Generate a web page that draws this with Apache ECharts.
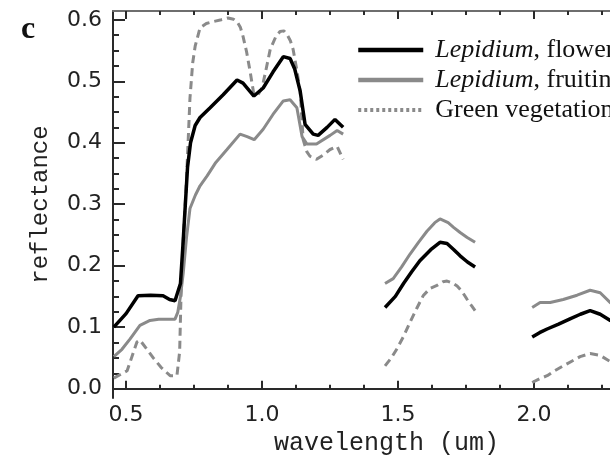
<!DOCTYPE html>
<html>
<head>
<meta charset="utf-8">
<title>Reflectance spectra</title>
<script src="https://cdn.jsdelivr.net/npm/echarts@6/dist/echarts.min.js"></script>
<style>
  html, body { margin: 0; padding: 0; background: #fff; }
  #chart { width: 610px; height: 461px; }
</style>
</head>
<body>
<div id="chart"></div>
<script>
// Spectral reflectance, wavelength in micrometres; null marks the water-absorption gaps.
const flowerWl = [0.455, 0.50, 0.544, 0.59, 0.636, 0.66, 0.68, 0.70, 0.71, 0.718, 0.726, 0.737, 0.754, 0.772, 0.809, 0.857, 0.908, 0.93, 0.97, 1.004, 1.04, 1.078, 1.103, 1.12, 1.14, 1.158, 1.188, 1.206, 1.239, 1.268, 1.298,
  null,
  1.452, 1.49, 1.52, 1.55, 1.58, 1.62, 1.654, 1.68, 1.705, 1.728, 1.755, 1.783,
  null,
  1.993, 2.02, 2.048, 2.09, 2.13, 2.17, 2.206, 2.243, 2.28, 2.32];
const flowerRef = [0.100, 0.122, 0.151, 0.152, 0.151, 0.145, 0.143, 0.171, 0.240, 0.300, 0.360, 0.400, 0.428, 0.441, 0.457, 0.478, 0.502, 0.497, 0.476, 0.489, 0.515, 0.540, 0.537, 0.520, 0.484, 0.430, 0.414, 0.412, 0.425, 0.438, 0.425,
  null,
  0.132, 0.150, 0.171, 0.190, 0.208, 0.226, 0.238, 0.236, 0.226, 0.216, 0.206, 0.198,
  null,
  0.084, 0.091, 0.097, 0.105, 0.113, 0.121, 0.127, 0.121, 0.111, 0.098];

const fruitWl = [0.455, 0.485, 0.515, 0.551, 0.588, 0.62, 0.662, 0.68, 0.69, 0.70, 0.71, 0.722, 0.735, 0.755, 0.772, 0.798, 0.83, 0.871, 0.919, 0.945, 0.971, 1.004, 1.04, 1.078, 1.103, 1.128, 1.147, 1.165, 1.2, 1.25, 1.276, 1.298,
  null,
  1.452, 1.482, 1.513, 1.544, 1.575, 1.606, 1.635, 1.654, 1.684, 1.705, 1.728, 1.754, 1.783,
  null,
  1.993, 2.022, 2.059, 2.107, 2.158, 2.206, 2.243, 2.28, 2.32];
const fruitRef = [0.052, 0.064, 0.081, 0.103, 0.111, 0.113, 0.113, 0.113, 0.124, 0.150, 0.187, 0.245, 0.293, 0.315, 0.330, 0.346, 0.368, 0.389, 0.414, 0.410, 0.405, 0.422, 0.446, 0.468, 0.470, 0.457, 0.410, 0.398, 0.398, 0.412, 0.420, 0.414,
  null,
  0.171, 0.179, 0.198, 0.219, 0.238, 0.256, 0.270, 0.276, 0.270, 0.262, 0.254, 0.246, 0.238,
  null,
  0.132, 0.140, 0.140, 0.145, 0.152, 0.160, 0.156, 0.140, 0.130];

const greenWl = [0.455, 0.504, 0.54, 0.551, 0.575, 0.60, 0.63, 0.662, 0.687, 0.697, 0.702, 0.71, 0.72, 0.728, 0.735, 0.745, 0.754, 0.772, 0.795, 0.82, 0.85, 0.875, 0.895, 0.908, 0.92, 0.93, 0.943, 0.956, 0.97, 0.985, 1.0, 1.015, 1.03, 1.05, 1.066, 1.08, 1.092, 1.104, 1.114, 1.127, 1.14, 1.151, 1.165, 1.176, 1.2, 1.225, 1.25, 1.276, 1.298,
  null,
  1.452, 1.475, 1.496, 1.52, 1.544, 1.568, 1.592, 1.617, 1.643, 1.665, 1.68, 1.70, 1.717, 1.735, 1.754, 1.77, 1.783,
  null,
  1.993, 2.02, 2.048, 2.075, 2.107, 2.14, 2.169, 2.206, 2.243, 2.28, 2.32];
const greenRef = [0.017, 0.029, 0.076, 0.079, 0.065, 0.050, 0.034, 0.021, 0.021, 0.060, 0.150, 0.240, 0.320, 0.400, 0.473, 0.530, 0.557, 0.587, 0.594, 0.597, 0.600, 0.603, 0.601, 0.597, 0.588, 0.573, 0.548, 0.516, 0.478, 0.478, 0.489, 0.520, 0.552, 0.572, 0.581, 0.582, 0.576, 0.566, 0.552, 0.520, 0.484, 0.405, 0.385, 0.378, 0.373, 0.380, 0.389, 0.394, 0.373,
  null,
  0.037, 0.050, 0.065, 0.085, 0.108, 0.130, 0.151, 0.163, 0.168, 0.174, 0.175, 0.172, 0.167, 0.158, 0.145, 0.135, 0.127,
  null,
  0.010, 0.016, 0.021, 0.029, 0.037, 0.045, 0.052, 0.057, 0.054, 0.044, 0.036];

const seriesNames = ['Lepidium, flowering', 'Lepidium, fruiting', 'Green vegetation'];
const xMajorTicks = [0.5, 1.0, 1.5, 2.0];
const xMinorTicks = [0.625, 0.75, 0.875, 1.125, 1.25, 1.375, 1.625, 1.75, 1.875, 2.125, 2.25];
const yMajorTicks = [0.0, 0.1, 0.2, 0.3, 0.4, 0.5, 0.6];
const yMinorTicks = [0.025, 0.05, 0.075, 0.125, 0.15, 0.175, 0.225, 0.25, 0.275, 0.325, 0.35, 0.375, 0.425, 0.45, 0.475, 0.525, 0.55, 0.575];

// Pair wavelengths with reflectance; a null pair breaks the line.
function pairs(wl, ref) {
  return wl.map((w, i) => (w === null || ref[i] === null) ? ['-', '-'] : [w, ref[i]]);
}

// The wavelength window runs on past the right edge of the page.
const X_MIN = 0.452, X_MAX = 2.279;
const Y_MIN = -0.0154, Y_MAX = 0.6143;
const AXIS_DARK = '#2a2a2a';
const AXIS_TOP = '#6e6e6e';
const GREY = '#8a8a8a';

function xAxisBase(extra) {
  return Object.assign({
    type: 'value', min: X_MIN, max: X_MAX, gridIndex: 0,
    splitLine: { show: false }, axisLabel: { show: false }
  }, extra);
}
function yAxisBase(extra) {
  return Object.assign({
    type: 'value', min: Y_MIN, max: Y_MAX, gridIndex: 0,
    splitLine: { show: false }, axisLabel: { show: false }
  }, extra);
}

const chart = echarts.init(document.getElementById('chart'), null, { renderer: 'canvas' });

chart.setOption({
  backgroundColor: '#ffffff',
  animation: false,
  grid: { left: 113, top: 11, right: 0, bottom: 53 },
  xAxis: [
    xAxisBase({
      position: 'bottom',
      name: 'wavelength (um)', nameLocation: 'middle', nameGap: 19,
      nameTextStyle: { fontFamily: 'Liberation Mono', fontSize: 25, color: '#222', padding: [0, 0, 0, 50] },
      axisLine: { lineStyle: { color: AXIS_DARK, width: 2 } },
      axisTick: { inside: true, length: 8, customValues: xMajorTicks, lineStyle: { color: AXIS_DARK, width: 2 } },
      axisLabel: { show: true, customValues: xMajorTicks, formatter: v => v.toFixed(1), margin: 6,
        fontFamily: 'DejaVu Sans', fontSize: 22, color: '#222' }
    }),
    xAxisBase({
      position: 'bottom', axisLine: { show: false },
      axisTick: { inside: true, length: 4, customValues: xMinorTicks, lineStyle: { color: AXIS_DARK, width: 2 } }
    }),
    xAxisBase({
      position: 'top',
      axisLine: { lineStyle: { color: AXIS_TOP, width: 2 } },
      axisTick: { inside: true, length: 8, customValues: xMajorTicks, lineStyle: { color: AXIS_DARK, width: 2 } }
    }),
    xAxisBase({
      position: 'top', axisLine: { show: false },
      axisTick: { inside: true, length: 4, customValues: xMinorTicks, lineStyle: { color: AXIS_DARK, width: 2 } }
    })
  ],
  yAxis: [
    yAxisBase({
      position: 'left',
      name: 'reflectance', nameLocation: 'middle', nameRotate: 90, nameGap: 60,
      nameTextStyle: { fontFamily: 'Liberation Mono', fontSize: 24, color: '#222' },
      axisLine: { lineStyle: { color: AXIS_DARK, width: 2 } },
      axisTick: { inside: true, length: 12, customValues: yMajorTicks, lineStyle: { color: AXIS_DARK, width: 2 } },
      axisLabel: { show: true, customValues: yMajorTicks, formatter: v => v.toFixed(1), margin: 11,
        fontFamily: 'DejaVu Sans', fontSize: 22, color: '#222' }
    }),
    yAxisBase({
      position: 'left', axisLine: { show: false },
      axisTick: { inside: true, length: 6, customValues: yMinorTicks, lineStyle: { color: AXIS_DARK, width: 2 } }
    })
  ],
  legend: {
    orient: 'vertical', left: 351, top: 32,
    itemWidth: 65, itemHeight: 20, itemGap: 4,
    itemStyle: { opacity: 0 },
    lineStyle: { width: 4.5 },
    data: [
      { name: seriesNames[0] },
      { name: seriesNames[1] },
      { name: seriesNames[2], lineStyle: { type: [3, 3], width: 4, color: GREY } }
    ],
    formatter: name => name.startsWith('Lepidium')
      ? '{i|Lepidium}' + name.slice('Lepidium'.length)
      : name,
    textStyle: {
      fontFamily: 'Liberation Serif', fontSize: 26, color: '#111', lineHeight: 24, padding: [0, 0, 0, 7],
      rich: { i: { fontFamily: 'Liberation Serif', fontSize: 26, lineHeight: 24, fontStyle: 'italic', color: '#111' } }
    }
  },
  graphic: [
    { type: 'text', left: 21, top: 14,
      style: { text: 'c', font: 'bold 32px "Liberation Serif"', fill: '#111' } }
  ],
  series: [
    {
      name: seriesNames[2], type: 'line', z: 2, symbol: 'none', connectNulls: false,
      data: pairs(greenWl, greenRef),
      lineStyle: { color: GREY, width: 3, type: [8, 5] }, itemStyle: { color: GREY }
    },
    {
      name: seriesNames[1], type: 'line', z: 3, symbol: 'none', connectNulls: false,
      data: pairs(fruitWl, fruitRef),
      lineStyle: { color: GREY, width: 3 }, itemStyle: { color: GREY }
    },
    {
      name: seriesNames[0], type: 'line', z: 4, symbol: 'none', connectNulls: false,
      data: pairs(flowerWl, flowerRef),
      lineStyle: { color: '#000', width: 3.5 }, itemStyle: { color: '#000' }
    }
  ]
});
</script>
</body>
</html>
